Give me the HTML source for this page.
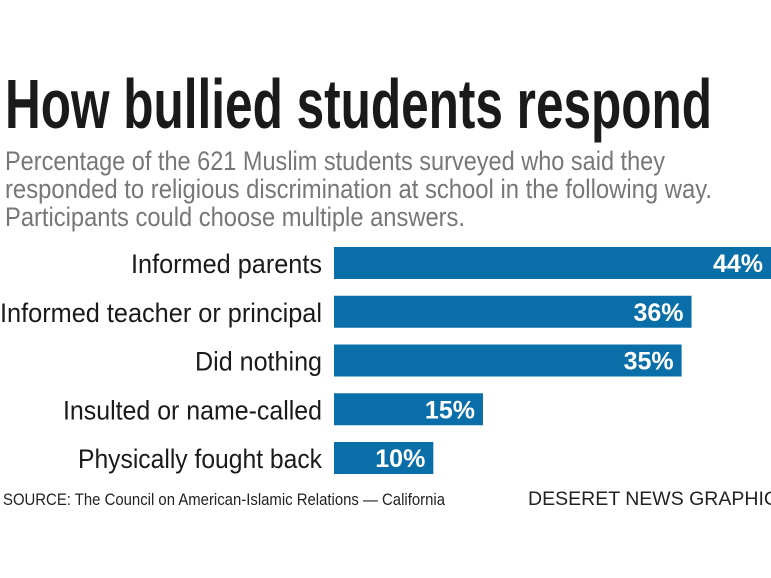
<!DOCTYPE html>
<html><head><meta charset="utf-8"><style>
html,body{margin:0;padding:0;background:#fff;width:771px;height:578px;overflow:hidden}
svg{display:block;font-family:"Liberation Sans Narrow","Liberation Sans",sans-serif}
</style></head><body>
<svg id="chart" width="771" height="578" viewBox="0 0 771 578">
<text x="5" y="128" font-size="70" font-weight="bold" fill="#1a1a1a" textLength="707" lengthAdjust="spacingAndGlyphs">How bullied students respond</text>
<g fill="#777" font-size="27">
<text x="5" y="170" textLength="660" lengthAdjust="spacingAndGlyphs">Percentage of the 621 Muslim students surveyed who said they</text>
<text x="5" y="198" textLength="707" lengthAdjust="spacingAndGlyphs">responded to religious discrimination at school in the following way.</text>
<text x="5" y="226" textLength="460" lengthAdjust="spacingAndGlyphs">Participants could choose multiple answers.</text>
</g>
<g id="bars"></g>
<text x="3" y="505" font-size="17" fill="#222" textLength="442" lengthAdjust="spacingAndGlyphs">SOURCE: The Council on American-Islamic Relations — California</text>
<text x="528" y="505" font-size="19" fill="#222" font-family="Liberation Sans, sans-serif" textLength="250" lengthAdjust="spacingAndGlyphs">DESERET NEWS GRAPHIC</text>
</svg>
<script>
const categories=["Informed parents","Informed teacher or principal","Did nothing","Insulted or name-called","Physically fought back"];
const values=[44,36,35,15,10];
const valueLabels=["44%","36%","35%","15%","10%"];
const labelWidths=[191,322,127,259,244];
const x0=334, xScale=v=>x0+v*(437/44);
const yTop=i=>247+i*48.75, barH=32;
const g=document.getElementById('bars');
const NS="http://www.w3.org/2000/svg";
categories.forEach((c,i)=>{
  const r=document.createElementNS(NS,'rect');
  
  
  r.setAttribute('x',x0);r.setAttribute('y',yTop(i));
  r.setAttribute('width',xScale(values[i])-x0);r.setAttribute('height',barH);
  r.setAttribute('fill','#0a6fa9');g.appendChild(r);
  const t=document.createElementNS(NS,'text');
  
  
  t.setAttribute('x',322-labelWidths[i]);t.setAttribute('y',yTop(i)+26);
  t.setAttribute('font-size','27');t.setAttribute('fill','#1a1a1a');
  t.setAttribute('textLength',labelWidths[i]);t.setAttribute('lengthAdjust','spacingAndGlyphs');
  t.textContent=c;g.appendChild(t);
  const v=document.createElementNS(NS,'text');
  
  
  v.setAttribute('x',xScale(values[i])-8);v.setAttribute('y',yTop(i)+25);
  v.setAttribute('text-anchor','end');v.setAttribute('font-size','25');
  v.setAttribute('font-weight','bold');v.setAttribute('fill','#fff');
  v.textContent=valueLabels[i];g.appendChild(v);
});
</script>
</body></html>
